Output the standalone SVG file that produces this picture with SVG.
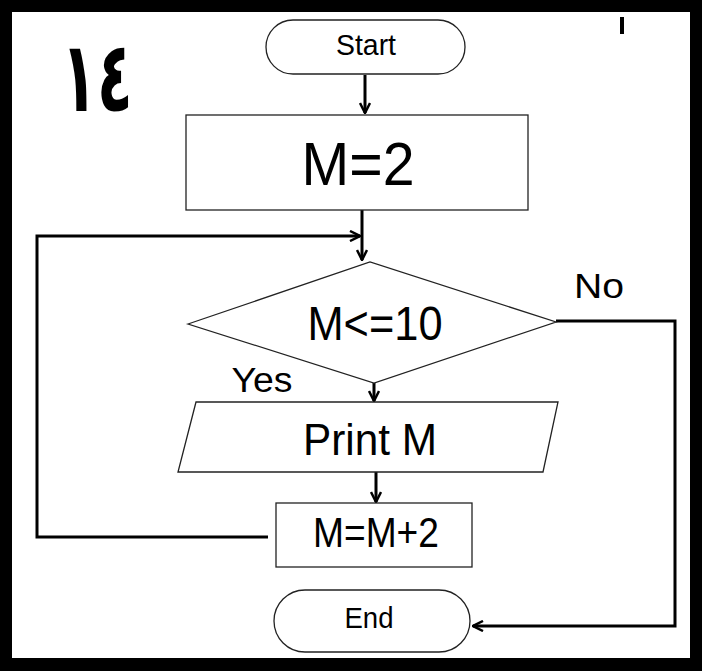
<svg xmlns="http://www.w3.org/2000/svg" width="702" height="671" viewBox="0 0 702 671">
<defs>
<style>
.shape{fill:#fff;stroke:#222;stroke-width:1.3}
.conn{fill:none;stroke:#000;stroke-width:3}
.t{font-family:"Liberation Sans",Arial,sans-serif;fill:#000;text-anchor:middle}
</style>
<marker id="ah" viewBox="0 0 12 12" refX="11" refY="6" markerWidth="12" markerHeight="12" markerUnits="userSpaceOnUse" orient="auto">
<path d="M1,1 L11,6 L1,11" fill="none" stroke="#000" stroke-width="2.5"/>
</marker>
</defs>
<rect x="0" y="0" width="702" height="671" fill="#000"/>
<rect x="12" y="12" width="678" height="646" fill="#fff"/>
<rect x="620" y="17" width="4" height="17" fill="#000"/>
<text transform="translate(97,111) scale(0.75,1.26)" x="0" y="0" font-family="'DejaVu Sans',sans-serif" font-weight="bold" font-size="78" text-anchor="middle" fill="#000">١٤</text>
<g id="connectors">
<path class="conn" d="M365,75 L365,113" marker-end="url(#ah)"/>
<path class="conn" d="M362,210 L362,260" marker-end="url(#ah)"/>
<path class="conn" d="M268,537 L37,537 L37,236 L360,236" marker-end="url(#ah)"/>
<path class="conn" d="M374,383 L374,401" marker-end="url(#ah)"/>
<path class="conn" d="M376,472 L376,502" marker-end="url(#ah)"/>
<path class="conn" d="M556,321 L675,321 L675,626 L473,626" marker-end="url(#ah)"/>
</g>
<g id="start">
<rect class="shape" x="266" y="20" width="199" height="54" rx="27"/>
<text class="t" x="366" y="55" font-size="29" textLength="60" lengthAdjust="spacingAndGlyphs">Start</text>
</g>
<g id="m2">
<rect class="shape" x="186" y="115" width="342" height="95"/>
<text class="t" x="358" y="185" font-size="61" textLength="113" lengthAdjust="spacingAndGlyphs">M=2</text>
</g>
<g id="decision">
<polygon class="shape" points="188,324 370,262 556,322 374,383"/>
<text class="t" x="375" y="340" font-size="49" textLength="135" lengthAdjust="spacingAndGlyphs">M&lt;=10</text>
</g>
<text class="t" x="599" y="298" font-size="35" textLength="50" lengthAdjust="spacingAndGlyphs">No</text>
<text class="t" x="262" y="392" font-size="35" textLength="61" lengthAdjust="spacingAndGlyphs">Yes</text>
<g id="print">
<polygon class="shape" points="196,402 558,402 543,472 178,472"/>
<text class="t" x="370" y="455" font-size="44" textLength="134" lengthAdjust="spacingAndGlyphs">Print M</text>
</g>
<g id="inc">
<rect class="shape" x="276" y="503" width="196" height="64"/>
<text class="t" x="376" y="547" font-size="42" textLength="126" lengthAdjust="spacingAndGlyphs">M=M+2</text>
</g>
<g id="end">
<rect class="shape" x="274" y="590" width="196" height="62" rx="31"/>
<text class="t" x="369" y="628" font-size="30" textLength="49" lengthAdjust="spacingAndGlyphs">End</text>
</g>
</svg>
